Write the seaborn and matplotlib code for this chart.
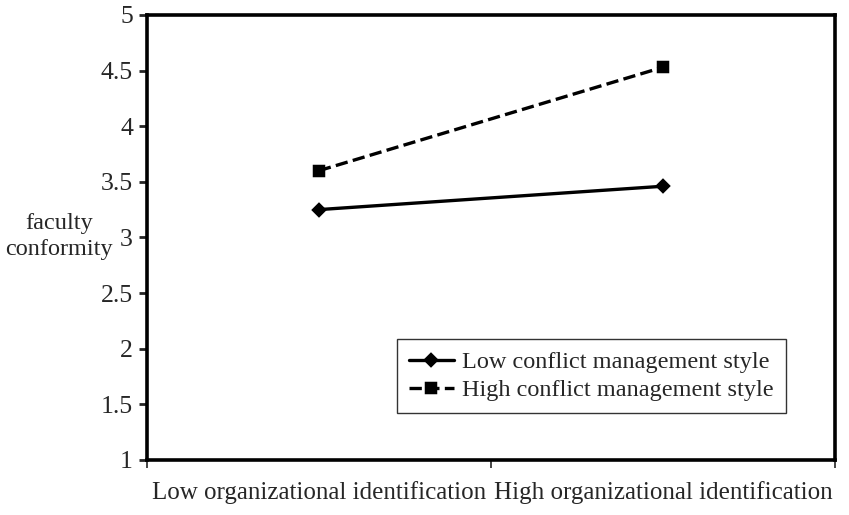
import pandas as pd
import matplotlib.pyplot as plt
import seaborn as sns

# values
identification = ["Low organizational identification", "High organizational identification"]
low_conflict = [3.25, 3.46]
high_conflict = [3.60, 4.53]
series_names = ["Low conflict management style", "High conflict management style"]

df = pd.DataFrame({
    "identification": identification * 2,
    "conformity": low_conflict + high_conflict,
    "style": [series_names[0]] * 2 + [series_names[1]] * 2,
})

sns.set_style("ticks")
plt.rcParams["font.family"] = ["Liberation Serif", "DejaVu Serif"]

fig = plt.figure(figsize=(8.49, 5.15), dpi=100)
ax = fig.add_axes([0.173, 0.107, 0.8105, 0.864])

sns.pointplot(data=df, x="identification", y="conformity", hue="style",
              order=identification, hue_order=series_names,
              palette=["black", "black"], markers=["D", "s"],
              linestyles=["-", "--"], markersize=6.5, linewidth=2.4,
              errorbar=None, ax=ax)

ax.set_xlim(-0.5, 1.5)
ax.set_ylim(1, 5)
ax.set_yticks([1, 1.5, 2, 2.5, 3, 3.5, 4, 4.5, 5])
ax.set_yticklabels(["1", "1.5", "2", "2.5", "3", "3.5", "4", "4.5", "5"], fontsize=18.5)
ax.set_xticks([0, 1])
ax.set_xticklabels(identification, fontsize=18)
ax.tick_params(axis="x", length=0, pad=15)
ax.set_xticks([-0.5, 0.5, 1.5], minor=True)
ax.tick_params(axis="x", which="minor", length=6, width=1.2, direction="out")
ax.tick_params(axis="y", length=6, width=2, direction="out", pad=4)
ax.set_xlabel("")
ax.set_ylabel("faculty\nconformity", fontsize=17.5, rotation=0, labelpad=0,
              linespacing=1.3)
ax.yaxis.set_label_coords(-0.128, 0.45)

for side in ax.spines.values():
    side.set_linewidth(2.6)
    side.set_color("black")

leg = ax.legend(loc="upper left", bbox_to_anchor=(0.363, 0.272), fontsize=17.5,
                frameon=True, fancybox=False, edgecolor="black",
                handlelength=1.85, borderpad=0.5, labelspacing=0.25,
                handletextpad=0.35, borderaxespad=0)
leg.get_frame().set_linewidth(1.0)

fig.savefig("out.png", dpi=100, facecolor="white")
